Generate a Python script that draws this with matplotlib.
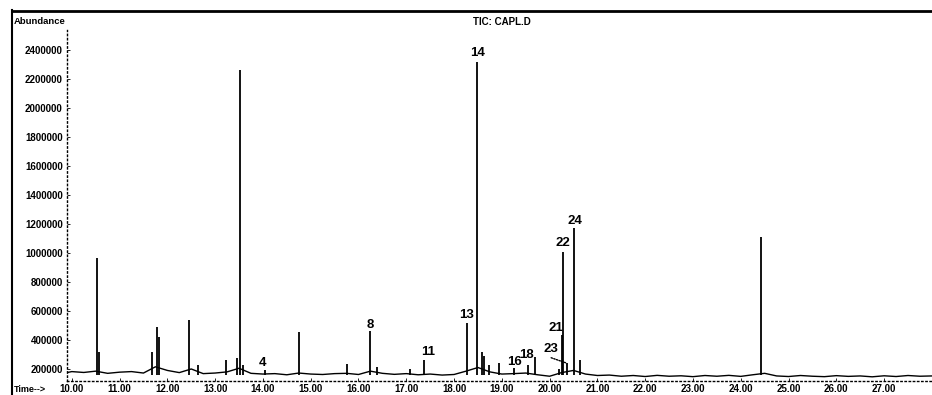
import numpy as np
import matplotlib
matplotlib.use("Agg")
import matplotlib.pyplot as plt
from matplotlib.lines import Line2D

plt.rcParams['font.family'] = ['Liberation Sans', 'DejaVu Sans']
plt.rcParams['font.weight'] = 'bold'

# baseline of the TIC trace (time in min, abundance)
base_t = [9.90, 10.00, 10.25, 10.50, 10.75, 11.00, 11.25, 11.50, 11.75, 12.00,
          12.25, 12.50, 12.75, 13.00, 13.25, 13.50, 13.75, 14.00, 14.25, 14.50,
          14.75, 15.00, 15.25, 15.50, 15.75, 16.00, 16.25, 16.50, 16.75, 17.00,
          17.25, 17.50, 17.75, 18.00, 18.25, 18.50, 18.75, 19.00, 19.25, 19.50,
          19.75, 20.00, 20.25, 20.50, 20.75, 21.00, 21.25, 21.50, 21.75, 22.00,
          22.25, 22.50, 22.75, 23.00, 23.25, 23.50, 23.75, 24.00, 24.25, 24.50,
          24.75, 25.00, 25.25, 25.50, 25.75, 26.00, 26.25, 26.50, 26.75, 27.00,
          27.25, 27.50, 27.75, 28.00]
base_v = [175000, 182000, 176000, 185000, 170000, 178000, 182000, 172000, 215000, 190000,
          175000, 200000, 168000, 172000, 180000, 205000, 170000, 165000, 168000, 160000,
          172000, 165000, 162000, 168000, 170000, 162000, 185000, 170000, 163000, 168000,
          160000, 165000, 158000, 162000, 185000, 210000, 180000, 165000, 168000, 172000,
          160000, 150000, 175000, 190000, 165000, 155000, 158000, 150000, 155000, 148000,
          156000, 150000, 153000, 147000, 155000, 150000, 156000, 149000, 160000, 170000,
          152000, 148000, 155000, 150000, 147000, 154000, 149000, 152000, 146000, 153000,
          148000, 155000, 150000, 152000]

# peaks
peak_t = [10.52, 10.57, 11.67, 11.78, 11.82, 12.45, 12.64, 13.22, 13.45, 13.53,
          13.58, 14.04, 14.75, 15.75, 16.25, 16.38, 17.07, 17.38, 18.28, 18.49,
          18.58, 18.62, 18.74, 18.95, 19.25, 19.54, 19.69, 20.20, 20.25, 20.29,
          20.36, 20.52, 20.63, 24.43]
peak_h = [965000, 317000, 317000, 490000, 420000, 538000, 228000, 262000, 276000, 2262000,
          230000, 195000, 455000, 234000, 462000, 215000, 200000, 262000, 517000, 2317000,
          317000, 290000, 230000, 241000, 205000, 228000, 283000, 200000, 434000, 1007000,
          240000, 1172000, 262000, 1110000]
peak_foot = 160000

# peak numbers and where they are written
label_txt = ['4', '8', '11', '13', '14', '16', '18', '21', '22', '23', '24']
label_t = [14.00, 16.25, 17.45, 18.26, 18.49, 19.27, 19.52, 20.13, 20.27, 20.02, 20.52]
label_v = [240000, 503000, 317000, 572000, 2379000, 248000, 297000, 483000, 1069000, 338000, 1221000]

x_ticks = [10, 11, 12, 13, 14, 15, 16, 17, 18, 19, 20, 21, 22, 23, 24, 25, 26, 27]
y_ticks = [200000, 400000, 600000, 800000, 1000000, 1200000, 1400000, 1600000,
           1800000, 2000000, 2200000, 2400000]

fig = plt.figure(figsize=(9.32, 3.95), dpi=100)
ax = fig.add_axes([0.0719, 0.0354, 0.928, 0.937])

ax.plot(base_t, base_v, color='black', lw=1.0)
ax.vlines(peak_t, peak_foot, peak_h, color='black', lw=1.3)

for txt, t, v in zip(label_txt, label_t, label_v):
    if txt == '23':
        # dotted leader from the label down to its small peak
        ax.annotate(txt, xy=(20.36, 240000), xytext=(t, v), ha='center', va='center',
                    fontsize=9.5, fontweight='bold',
                    arrowprops=dict(arrowstyle='-', ls=(0, (1, 1)), lw=1.0, color='black',
                                    relpos=(0.0, 0.0), shrinkA=0, shrinkB=0))
    else:
        ax.text(t, v, txt, ha='center', va='center', fontsize=9.5, fontweight='bold')

ax.set_xlim(9.9, 28.0)
ax.set_ylim(117000, 2669000)
ax.set_xticks(x_ticks)
ax.set_xticklabels(['%.2f' % t for t in x_ticks])
ax.set_yticks(y_ticks)
ax.set_yticklabels([str(v) for v in y_ticks])
ax.tick_params(axis='both', direction='in', length=2, width=0.6, labelsize=7, pad=2)
ax.tick_params(axis='y', pad=3)

for s in ['top', 'right']:
    ax.spines[s].set_visible(False)
for s in ['left', 'bottom']:
    ax.spines[s].set_linestyle((0, (1, 2)))
    ax.spines[s].set_linewidth(1.0)
ax.spines['left'].set_bounds(117000, 2540000)

# outer frame of the printout
fig.add_artist(Line2D([12 / 932, 12 / 932], [0, 1 - 10 / 395], color='black', lw=1.5))
fig.add_artist(Line2D([12 / 932, 1], [1 - 11 / 395, 1 - 11 / 395], color='black', lw=2))

fig.text(14 / 932, 1 - 21 / 395, 'Abundance', ha='left', va='center', fontsize=6.8, fontweight='bold')
fig.text(502 / 932, 1 - 22 / 395, 'TIC: CAPL.D', ha='center', va='center', fontsize=7, fontweight='bold')
fig.text(14 / 932, 1 - 390 / 395, 'Time-->', ha='left', va='center', fontsize=6.5, fontweight='bold')

fig.savefig('out.png', dpi=100, facecolor='white')
